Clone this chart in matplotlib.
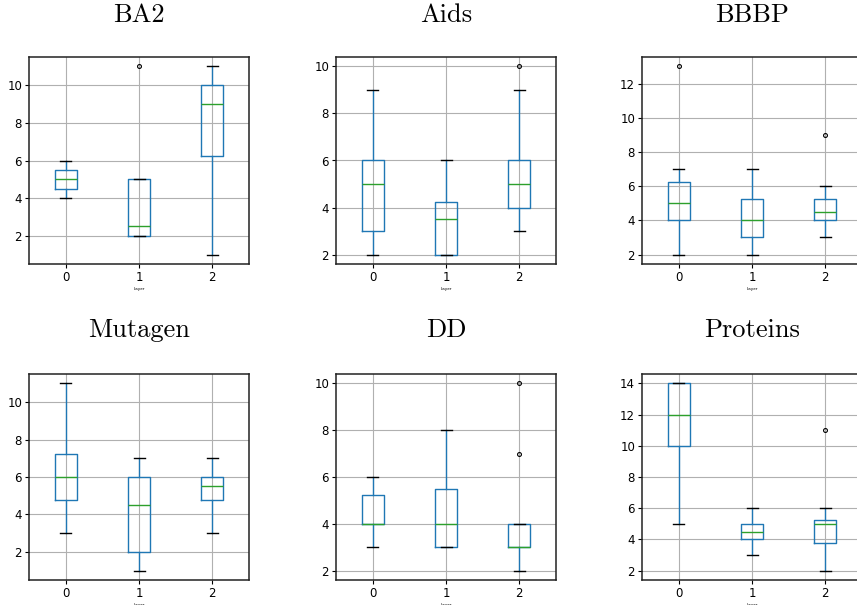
import matplotlib
matplotlib.use("Agg")
import matplotlib.pyplot as plt
from matplotlib.ticker import MultipleLocator

# dataset titles, one panel per dataset
titles = ["BA2", "Aids", "BBBP", "Mutagen", "DD", "Proteins"]
layers = ["0", "1", "2"]

# box stats per dataset, one value per layer 0,1,2
whislo = {
    "BA2": [4, 2, 1], "Aids": [2, 2, 3], "BBBP": [2, 2, 3],
    "Mutagen": [3, 1, 3], "DD": [3, 3, 2], "Proteins": [5, 3, 2],
}
q1 = {
    "BA2": [4.5, 2, 6.25], "Aids": [3, 2, 4], "BBBP": [4, 3, 4],
    "Mutagen": [4.75, 2, 4.75], "DD": [4, 3, 3], "Proteins": [10, 4, 3.75],
}
med = {
    "BA2": [5, 2.5, 9], "Aids": [5, 3.5, 5], "BBBP": [5, 4, 4.5],
    "Mutagen": [6, 4.5, 5.5], "DD": [4, 4, 3], "Proteins": [12, 4.5, 5],
}
q3 = {
    "BA2": [5.5, 5, 10], "Aids": [6, 4.25, 6], "BBBP": [6.25, 5.25, 5.25],
    "Mutagen": [7.25, 6, 6], "DD": [5.25, 5.5, 4], "Proteins": [14, 5, 5.25],
}
whishi = {
    "BA2": [6, 5, 11], "Aids": [9, 6, 9], "BBBP": [7, 7, 6],
    "Mutagen": [11, 7, 7], "DD": [6, 8, 4], "Proteins": [14, 6, 6],
}
fliers = {
    "BA2": [[], [11], []], "Aids": [[], [], [10]], "BBBP": [[13], [], [9]],
    "Mutagen": [[], [], []], "DD": [[], [], [7, 10]], "Proteins": [[], [], [11]],
}

W, H = 857, 605
fig = plt.figure(figsize=(W / 100, H / 100), dpi=100)

# axes boxes in pixels (left, top, right, bottom)
col_x = [(29, 249), (336, 556), (642, 862)]
row_y = [(57, 264), (374, 580)]
title_base = [22, 337]

for i, name in enumerate(titles):
    r, c = divmod(i, 3)
    x0, x1 = col_x[c]
    y0, y1 = row_y[r]
    ax = fig.add_axes([x0 / W, 1 - y1 / H, (x1 - x0) / W, (y1 - y0) / H])
    stats = []
    for k in range(3):
        stats.append(dict(med=med[name][k], q1=q1[name][k], q3=q3[name][k],
                          whislo=whislo[name][k], whishi=whishi[name][k],
                          fliers=fliers[name][k]))
    ax.bxp(stats, positions=[1, 2, 3], widths=0.3,
           boxprops=dict(color="#1f77b4", lw=1.0),
           whiskerprops=dict(color="#1f77b4", lw=1.0),
           capprops=dict(color="black", lw=1.0),
           medianprops=dict(color="#2ca02c", lw=1.0),
           flierprops=dict(marker="o", markersize=2.8, markerfacecolor="none",
                           markeredgecolor="black", markeredgewidth=0.8))
    ax.set_xlim(0.5, 3.5)
    ax.set_xticks([1, 2, 3])
    ax.set_xticklabels(layers)
    ax.yaxis.set_major_locator(MultipleLocator(2))
    ax.grid(True, color="#b0b0b0", lw=0.8)
    ax.set_axisbelow(True)
    ax.tick_params(labelsize=8.5, length=3, width=0.8, pad=2)
    ax.set_xlabel("Layer", fontsize=3, labelpad=2)
    for sp in ax.spines.values():
        sp.set_color("#222222")
        sp.set_linewidth(1.1)
    fig.text((x0 + x1) / 2 / W, 1 - title_base[r] / H, name, ha="center",
             va="baseline", fontsize=19, family="cmr10")

fig.savefig("out.png", dpi=100)
